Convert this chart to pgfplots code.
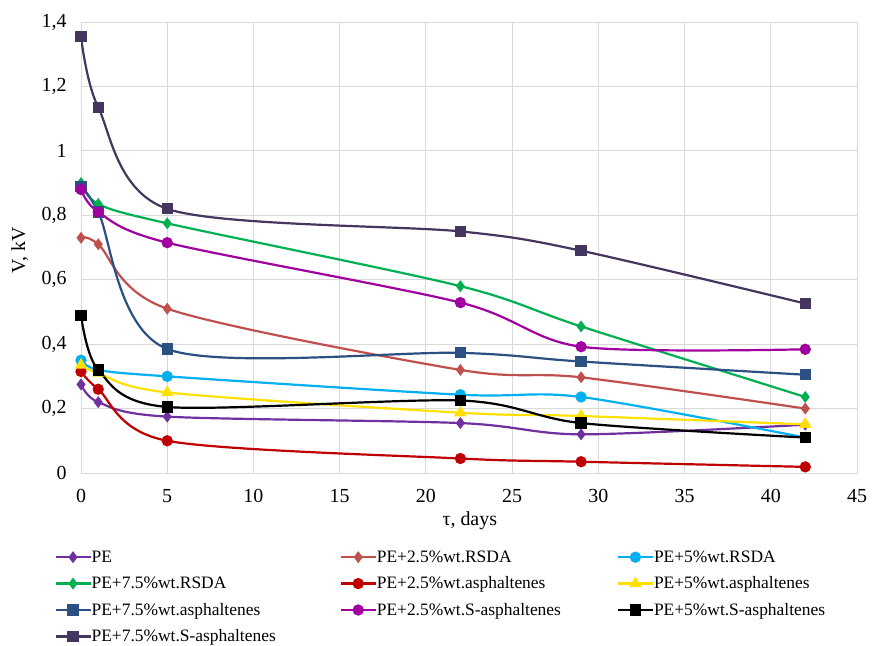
\documentclass[border=0pt]{standalone}
\usepackage{fontspec}
\setmainfont{Liberation Serif}
\usepackage{pgfplots}
\pgfplotsset{compat=1.18}
\definecolor{gridc}{HTML}{D9D9D9}
\definecolor{cPE}{HTML}{7030A0}
\definecolor{cRa}{HTML}{C0504D}
\definecolor{cRb}{HTML}{00B0F0}
\definecolor{cRc}{HTML}{00B050}
\definecolor{cAa}{HTML}{C00000}
\definecolor{cAb}{HTML}{FFE000}
\definecolor{cAc}{HTML}{2B5082}
\definecolor{cSa}{HTML}{A0009F}
\definecolor{cSb}{HTML}{000000}
\definecolor{cSc}{HTML}{44365F}
\begin{document}
\begin{tikzpicture}
\begin{axis}[
  at={(81bp,173bp)}, anchor=south west,
  scale only axis, width=776bp, height=451bp,
  xmin=0, xmax=45, ymin=0, ymax=1.4,
  xtick={0,5,10,15,20,25,30,35,40,45},
  ytick={0,0.2,0.4,0.6,0.8,1,1.2,1.4},
  yticklabels={0,{0,2},{0,4},{0,6},{0,8},1,{1,2},{1,4}},
  grid=major, major grid style={draw=gridc, line width=0.8bp},
  axis line style={draw=gridc, line width=0.8bp},
  major tick length=0pt,
  tick label style={font=\fontsize{20}{24}\selectfont},
  /pgf/number format/assume math mode=true,
  yticklabel style={xshift=-11bp},
  xticklabel style={yshift=-13bp},
  xlabel={τ, days},
  xlabel style={at={(axis description cs:0.501,-0.106)}, anchor=center, font=\fontsize{20}{24}\selectfont},
  ylabel={V, kV},
  ylabel style={at={(axis description cs:-0.079,0.494)}, anchor=center, font=\fontsize{20}{24}\selectfont},
  legend columns=3,
  legend cell align=left,
  legend style={at={(axis description cs:-0.0345,-0.1674)}, anchor=north west, draw=none, fill=none, inner sep=0pt,
    font=\fontsize{17.5}{21}\selectfont, column sep=0bp, row sep=9.4bp,
    nodes={inner sep=0pt, text height=13.5bp, text depth=3.5bp},
    /tikz/column 2/.style={text width=248bp},
    /tikz/column 4/.style={text width=240bp}},
  legend image code/.code={\draw[mark repeat=2, mark phase=2] plot coordinates {(0bp,0bp) (17.5bp,0bp) (35bp,0bp)};},
  every axis plot/.append style={line width=2.2bp, smooth, tension=0.5},
]
\addplot[color=cPE, mark=diamond*, mark size=4.2bp] coordinates {(0,0.275)(1,0.22)(5,0.175)(22,0.155)(29,0.12)(42,0.15)};
\addlegendentry{PE}
\addplot[color=cRa, mark=diamond*, mark size=4.2bp] coordinates {(0,0.73)(1,0.71)(5,0.51)(22,0.32)(29,0.297)(42,0.2)};
\addlegendentry{PE+2.5\%wt.RSDA}
\addplot[color=cRb, mark=*, mark size=4.5bp] coordinates {(0,0.35)(1,0.32)(5,0.30)(22,0.243)(29,0.236)(42,0.11)};
\addlegendentry{PE+5\%wt.RSDA}
\addplot[color=cRc, mark=diamond*, mark size=4.2bp] coordinates {(0,0.90)(1,0.835)(5,0.775)(22,0.58)(29,0.455)(42,0.236)};
\addlegendentry{PE+7.5\%wt.RSDA}
\addplot[color=cAa, mark=*, mark size=4.5bp] coordinates {(0,0.315)(1,0.26)(5,0.10)(22,0.045)(29,0.035)(42,0.019)};
\addlegendentry{PE+2.5\%wt.asphaltenes}
\addplot[color=cAb, mark=triangle*, mark size=5bp] coordinates {(0,0.335)(1,0.31)(5,0.25)(22,0.187)(29,0.177)(42,0.151)};
\addlegendentry{PE+5\%wt.asphaltenes}
\addplot[color=cAc, mark=square*, mark size=4.5bp] coordinates {(0,0.89)(1,0.81)(5,0.385)(22,0.373)(29,0.346)(42,0.305)};
\addlegendentry{PE+7.5\%wt.asphaltenes}
\addplot[color=cSa, mark=*, mark size=4.5bp] coordinates {(0,0.88)(1,0.81)(5,0.715)(22,0.529)(29,0.392)(42,0.384)};
\addlegendentry{PE+2.5\%wt.S-asphaltenes}
\addplot[color=cSb, mark=square*, mark size=4.5bp] coordinates {(0,0.49)(1,0.32)(5,0.205)(22,0.225)(29,0.155)(42,0.11)};
\addlegendentry{PE+5\%wt.S-asphaltenes}
\addplot[color=cSc, mark=square*, mark size=4.5bp] coordinates {(0,1.355)(1,1.135)(5,0.82)(22,0.75)(29,0.69)(42,0.526)};
\addlegendentry{PE+7.5\%wt.S-asphaltenes}
\end{axis}
\pgfresetboundingbox
\path (0,0) rectangle (872bp,646bp);
\end{tikzpicture}
\end{document}
